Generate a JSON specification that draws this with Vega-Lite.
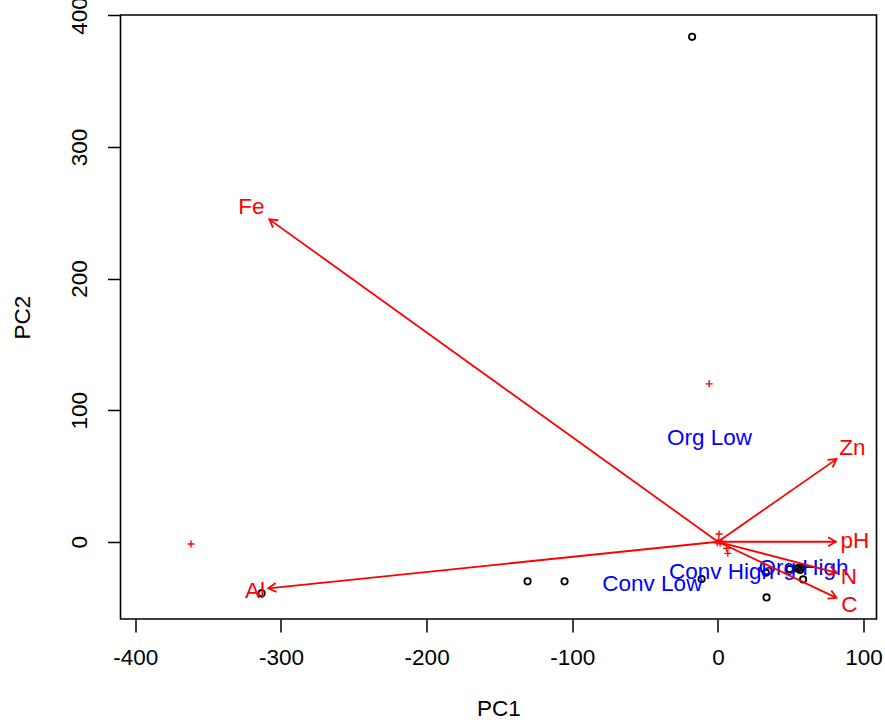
{
  "$schema": "https://vega.github.io/schema/vega-lite/v6.json",
  "width": 756,
  "height": 604,
  "autosize": {"type": "none"},
  "padding": {"left": 120.5, "top": 15, "right": 8.5, "bottom": 101},
  "background": "white",
  "config": {
    "font": "Liberation Sans",
    "view": {"stroke": "black", "strokeWidth": 1.6},
    "axis": {
      "domain": false,
      "grid": false,
      "ticks": true,
      "tickColor": "black",
      "tickWidth": 1.5,
      "tickSize": 13,
      "labelFont": "Liberation Sans",
      "labelFontSize": 22.5,
      "labelColor": "black",
      "labelExpr": "toString(datum.value)",
      "titleFont": "Liberation Sans",
      "titleFontSize": 22.5,
      "titleFontWeight": "normal",
      "titleColor": "black"
    },
    "axisX": {"labelPadding": 14, "titleY": 89, "titleBaseline": "middle"},
    "axisY": {
      "labelAngle": -90,
      "labelAlign": "center",
      "labelBaseline": "alphabetic",
      "labelPadding": 21,
      "titleX": -98,
      "titleY": 302,
      "titleAngle": -90,
      "titleAlign": "center",
      "titleBaseline": "middle"
    }
  },
  "datasets": {
    "arrows": [
      {"var": "Fe", "x": -308, "y": 245, "lx": -320.4, "ly": 254.7},
      {"var": "Al", "x": -308.7, "y": -35.4, "lx": -317.8, "ly": -37.5},
      {"var": "Zn", "x": 81.4, "y": 62.8, "lx": 92.4, "ly": 71.2},
      {"var": "pH", "x": 81, "y": 0, "lx": 94, "ly": 0.5},
      {"var": "N", "x": 81.8, "y": -23.6, "lx": 89.9, "ly": -26.6},
      {"var": "C", "x": 81.4, "y": -42.6, "lx": 90.2, "ly": -48.1}
    ],
    "sites": [
      {"x": -17.7, "y": 383.7},
      {"x": -130.7, "y": -30.1},
      {"x": -105.3, "y": -30.1},
      {"x": -313.3, "y": -39.2},
      {"x": -11.2, "y": -28.3},
      {"x": 32.9, "y": -23.5},
      {"x": 33.4, "y": -42.3},
      {"x": 49.3, "y": -20.7},
      {"x": 54.4, "y": -20.3},
      {"x": 55.5, "y": -19.8},
      {"x": 57.1, "y": -19.8},
      {"x": 56.5, "y": -21.5},
      {"x": 58.5, "y": -28.6}
    ],
    "species": [
      {"x": -361.8, "y": -1.7},
      {"x": -6, "y": 120},
      {"x": 0.8, "y": 5.9},
      {"x": 5.9, "y": -5},
      {"x": 6.8, "y": -8.8},
      {"x": 0.5, "y": 0.5},
      {"x": 1.5, "y": -1},
      {"x": -0.5, "y": -0.8},
      {"x": 2.5, "y": 0.3}
    ],
    "groups": [
      {"label": "Org Low", "x": -5.8, "y": 78.8},
      {"label": "Conv Low", "x": -45, "y": -32.1},
      {"label": "Conv High", "x": 2.5, "y": -23},
      {"label": "Org High", "x": 58.8, "y": -20}
    ]
  },
  "layer": [
    {
      "data": {"name": "sites"},
      "mark": {"type": "point", "shape": "circle", "filled": false, "stroke": "black", "strokeWidth": 1.8, "size": 40, "opacity": 1},
      "encoding": {
        "x": {"field": "x", "type": "quantitative", "title": "PC1",
              "scale": {"domain": [-410.2, 108.9], "nice": false, "zero": false},
              "axis": {"values": [-400, -300, -200, -100, 0, 100]}},
        "y": {"field": "y", "type": "quantitative", "title": "PC2",
              "scale": {"domain": [-58.7, 400.3], "nice": false, "zero": false},
              "axis": {"values": [0, 100, 200, 300, 400]}}
      }
    },
    {
      "mark": {"type": "rule", "color": "black", "strokeWidth": 1.4, "strokeDash": [1.5, 2.5]},
      "encoding": {"x": {"datum": 0}}
    },
    {
      "mark": {"type": "rule", "color": "black", "strokeWidth": 1.4, "strokeDash": [1.5, 2.5]},
      "encoding": {"y": {"datum": 0}}
    },
    {
      "data": {"name": "groups"},
      "mark": {"type": "text", "color": "#0000FF", "fontSize": 22.5, "font": "Liberation Sans", "align": "center", "baseline": "middle"},
      "encoding": {
        "x": {"field": "x", "type": "quantitative", "title": "PC1"},
        "y": {"field": "y", "type": "quantitative", "title": "PC2"},
        "text": {"field": "label"}
      }
    },
    {
      "data": {"name": "species"},
      "mark": {"type": "point", "shape": "M-1,0L1,0M0,-1L0,1", "filled": false, "stroke": "#FF0000", "strokeWidth": 1.4, "size": 49, "opacity": 1},
      "encoding": {
        "x": {"field": "x", "type": "quantitative", "title": "PC1"},
        "y": {"field": "y", "type": "quantitative", "title": "PC2"}
      }
    },
    {
      "data": {"name": "arrows"},
      "mark": {"type": "rule", "color": "#FF0000", "strokeWidth": 1.8},
      "encoding": {
        "x": {"field": "x", "type": "quantitative", "title": "PC1"},
        "y": {"field": "y", "type": "quantitative", "title": "PC2"},
        "x2": {"datum": 0},
        "y2": {"datum": 0}
      }
    },
    {
      "data": {"name": "arrows"},
      "transform": [{"calculate": "atan2(-datum.y * 1.316, datum.x * 1.457) * 180 / PI", "as": "ang"}],
      "mark": {"type": "point", "shape": "M-0.866,-0.5L0,0L-0.866,0.5", "filled": false, "stroke": "#FF0000", "strokeWidth": 1.8, "size": 324, "opacity": 1},
      "encoding": {
        "x": {"field": "x", "type": "quantitative", "title": "PC1"},
        "y": {"field": "y", "type": "quantitative", "title": "PC2"},
        "angle": {"field": "ang", "type": "quantitative", "scale": null}
      }
    },
    {
      "data": {"name": "arrows"},
      "mark": {"type": "text", "color": "#FF0000", "fontSize": 22.5, "font": "Liberation Sans", "align": "center", "baseline": "middle"},
      "encoding": {
        "x": {"field": "lx", "type": "quantitative", "title": "PC1"},
        "y": {"field": "ly", "type": "quantitative", "title": "PC2"},
        "text": {"field": "var"}
      }
    }
  ]
}
